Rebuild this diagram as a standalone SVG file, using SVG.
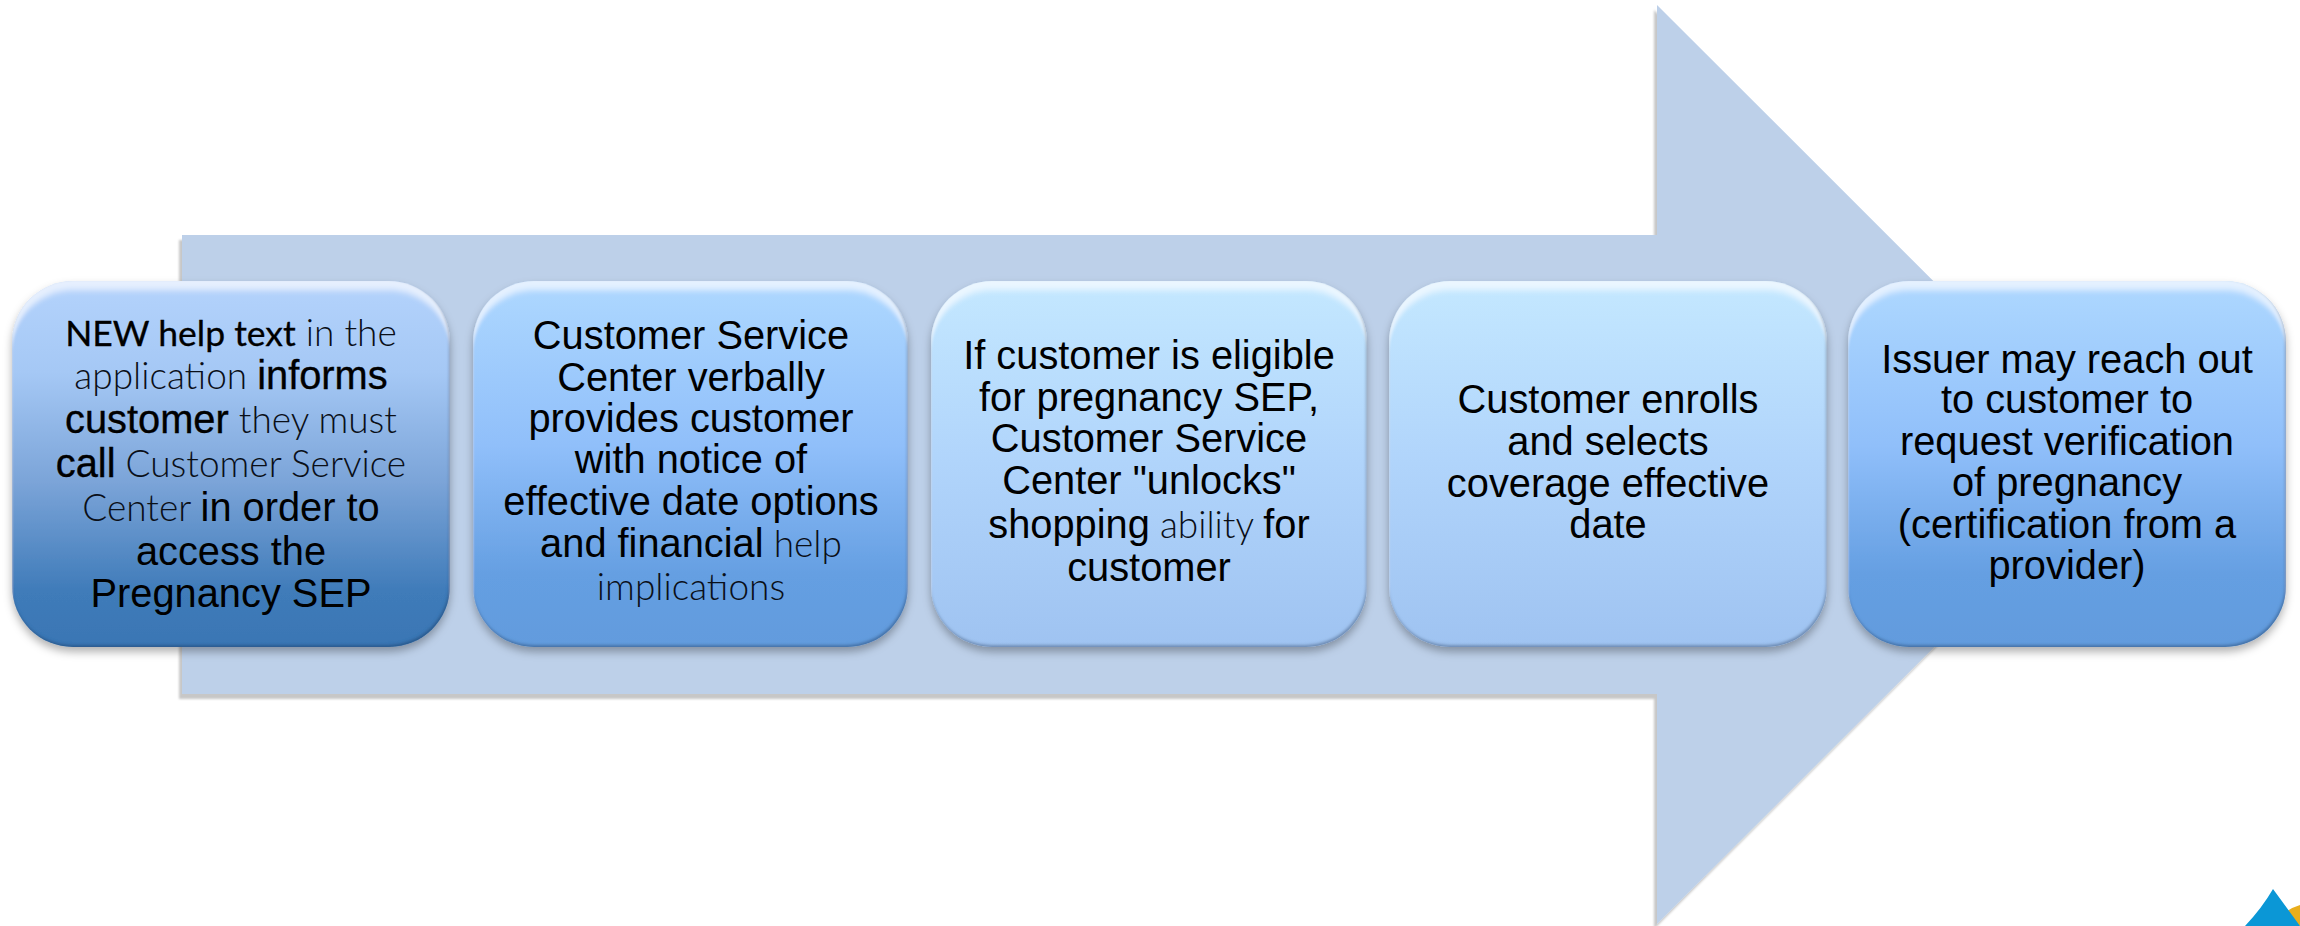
<svg xmlns="http://www.w3.org/2000/svg" width="2300" height="926" viewBox="0 0 2300 926">
<style>
text{font-family:"Liberation Sans",Arial,sans-serif;font-size:39.8px;fill:#000;text-anchor:middle}
.l{font-family:Lato,"Open Sans",sans-serif;font-weight:300;font-size:37px;fill:#0a0f18}
.m{font-family:Lato,"Open Sans",sans-serif;font-weight:400;font-size:35.5px;stroke:#000;stroke-width:.3px}
.b{stroke:#000;stroke-width:.35px}
</style>
<defs>
<linearGradient id="g1" x1="0" y1="0" x2="0" y2="1"><stop offset="0" stop-color="#b4d3fc"/><stop offset=".25" stop-color="#a5c8f5"/><stop offset=".55" stop-color="#7ba4d8"/><stop offset=".85" stop-color="#3f7bb9"/><stop offset="1" stop-color="#3a76b4"/></linearGradient>
<linearGradient id="g2" x1="0" y1="0" x2="0" y2="1"><stop offset="0" stop-color="#aed8ff"/><stop offset=".45" stop-color="#90bffa"/><stop offset=".8" stop-color="#659fe2"/><stop offset="1" stop-color="#629bdd"/></linearGradient>
<linearGradient id="g3" x1="0" y1="0" x2="0" y2="1"><stop offset="0" stop-color="#c4e8ff"/><stop offset=".5" stop-color="#b0d4fb"/><stop offset="1" stop-color="#9fc3f1"/></linearGradient>
<filter id="bevel" x="-5%" y="-5%" width="110%" height="115%">
<feGaussianBlur in="SourceAlpha" stdDeviation="4" result="sb"/>
<feOffset in="sb" dy="5" result="so"/>
<feFlood flood-color="#000" flood-opacity=".3"/><feComposite in2="so" operator="in" result="shadow"/>
<feOffset in="SourceAlpha" dy="9" result="o1"/><feGaussianBlur in="o1" stdDeviation="1 3" result="o1b"/>
<feFlood flood-color="#fff" flood-opacity=".62"/><feComposite in2="o1b" operator="out" result="hi0"/>
<feComposite in="hi0" in2="SourceAlpha" operator="in" result="hi"/>
<feOffset in="SourceAlpha" dx="-1" dy="-2" result="o2"/><feGaussianBlur in="o2" stdDeviation="1.5" result="o2b"/>
<feFlood flood-color="#1c3f6a" flood-opacity=".6"/><feComposite in2="o2b" operator="out" result="lo0"/>
<feComposite in="lo0" in2="SourceAlpha" operator="in" result="lo"/>
<feMerge><feMergeNode in="shadow"/><feMergeNode in="SourceGraphic"/><feMergeNode in="hi"/><feMergeNode in="lo"/></feMerge>
</filter>
<filter id="as" x="-2%" y="-2%" width="104%" height="104%"><feDropShadow dx="-3" dy="5" stdDeviation=".8" flood-color="#000" flood-opacity=".22"/></filter>
</defs>
<g id="arrow"><polygon points="182,235 1657,235 1657,5 2117,464.5 1657,924 1657,694 182,694" fill="#bdd0e9" filter="url(#as)"/></g>
<g id="logo"><path d="M2300,905 Q2290,908 2283,914 L2300,926Z" fill="#e9ae1c"/><path d="M2273,889 L2300,926 L2245,926 Q2262,908 2273,889Z" fill="#0b97d6"/></g>
<g id="connectors"></g>
<g id="node1"><rect x="12" y="281" width="438" height="366" rx="61" fill="url(#g1)" filter="url(#bevel)"/>
<text x="231" y="346"><tspan class="m">NEW help text</tspan><tspan class="l"> in the</tspan></text>
<text x="231" y="389"><tspan class="l">application </tspan><tspan class="b">informs</tspan></text>
<text x="231" y="433"><tspan class="b">customer</tspan><tspan class="l"> they must</tspan></text>
<text x="231" y="477"><tspan class="b">call</tspan><tspan class="l"> Customer Service</tspan></text>
<text x="231" y="521"><tspan class="l">Center </tspan><tspan>in order to</tspan></text>
<text x="231" y="565">access the</text>
<text x="231" y="607">Pregnancy SEP</text></g>
<g id="node2"><rect x="473" y="281" width="435" height="366" rx="61" fill="url(#g2)" filter="url(#bevel)"/>
<text x="691" y="349">Customer Service</text>
<text x="691" y="391">Center verbally</text>
<text x="691" y="432">provides customer</text>
<text x="691" y="473">with notice of</text>
<text x="691" y="515">effective date options</text>
<text x="691" y="557">and financial<tspan class="l"> help</tspan></text>
<text x="691" y="600" class="l">implications</text></g>
<g id="node3"><rect x="931" y="281" width="436" height="366" rx="61" fill="url(#g3)" filter="url(#bevel)"/>
<text x="1149" y="369">If customer is eligible</text>
<text x="1149" y="411">for pregnancy SEP,</text>
<text x="1149" y="452">Customer Service</text>
<text x="1149" y="494">Center "unlocks"</text>
<text x="1149" y="538">shopping<tspan class="l"> ability </tspan>for</text>
<text x="1149" y="581">customer</text></g>
<g id="node4"><rect x="1389" y="281" width="438" height="366" rx="61" fill="url(#g3)" filter="url(#bevel)"/>
<text x="1608" y="413">Customer enrolls</text>
<text x="1608" y="455">and selects</text>
<text x="1608" y="497">coverage effective</text>
<text x="1608" y="538">date</text></g>
<g id="node5"><rect x="1848" y="281" width="438" height="366" rx="61" fill="url(#g2)" filter="url(#bevel)"/>
<text x="2067" y="373">Issuer may reach out</text>
<text x="2067" y="413">to customer to</text>
<text x="2067" y="455">request verification</text>
<text x="2067" y="496">of pregnancy</text>
<text x="2067" y="538">(certification from a</text>
<text x="2067" y="579">provider)</text></g>
</svg>
